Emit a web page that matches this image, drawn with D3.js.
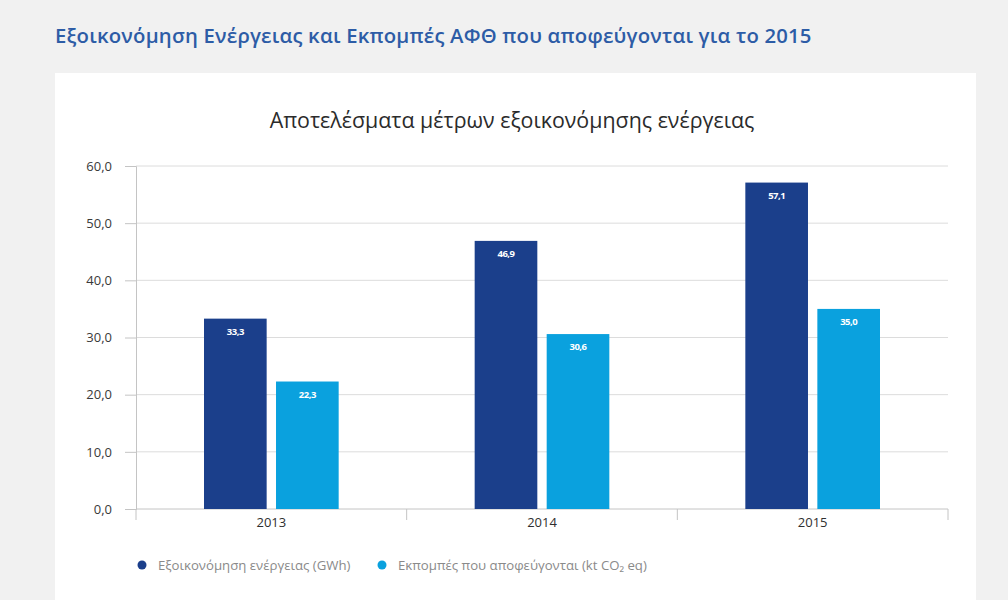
<!DOCTYPE html>
<html>
<head>
<meta charset="utf-8">
<script src="https://cdn.jsdelivr.net/npm/d3@7"></script>
<style>
  body { margin: 0; background: #f1f1f1; }
  svg { display: block; }
</style>
</head>
<body>
<svg id="chart"></svg>
<script>
'use strict';

var years = ['2013', '2014', '2015'];
var seriesNames = ['Εξοικονόμηση ενέργειας (GWh)', 'Εκπομπές που αποφεύγονται (kt CO₂ eq)'];
var energySaved = [33.3, 46.9, 57.1];
var emissionsAvoided = [22.3, 30.6, 35.0];
var yTicks = [0, 10, 20, 30, 40, 50, 60];
var colors = ['#1b3f8b', '#0aa1de'];

var svgWidth = 1008, svgHeight = 600,
    margin = { top: 166, right: 60, bottom: 91, left: 136 },
    width = 948 - margin.left,
    height = 509 - margin.top;

var svg = d3.select('#chart').attr('width', svgWidth).attr('height', svgHeight);

// white panel
svg.append('rect')
    .attr('x', 55).attr('y', 73)
    .attr('width', 921).attr('height', 540)
    .attr('fill', '#ffffff');

svg.append('text')
    .attr('x', 55).attr('y', 43)
    .attr('font-family', '"Open Sans", sans-serif')
    .attr('font-size', 20.3)
    .attr('font-weight', 600)
    .attr('letter-spacing', 0.2)
    .attr('fill', '#2d5ca6')
    .text('Εξοικονόμηση Ενέργειας και Εκπομπές ΑΦΘ που αποφεύγονται για το 2015');

svg.append('text')
    .attr('x', 512).attr('y', 128)
    .attr('text-anchor', 'middle')
    .attr('font-family', '"Open Sans", sans-serif')
    .attr('font-size', 21.4)
    .attr('fill', '#2b2b2b')
    .text('Αποτελέσματα μέτρων εξοικονόμησης ενέργειας');

var g = svg.append('g').attr('transform', 'translate(' + margin.left + ',' + margin.top + ')');

var x0 = d3.scaleBand().domain(years).range([0, width]).paddingInner(0).paddingOuter(0);
var x1 = d3.scaleBand().domain([0, 1]).range([68, x0.bandwidth() - 68]).paddingInner(0.13);
var y = d3.scaleLinear().domain([0, 60]).range([height, 0]);

var fmt = function(v) { return d3.format('.1f')(v).replace('.', ','); };

// gridlines
g.append('g')
    .selectAll('line')
    .data(yTicks.slice(1))
    .enter().append('line')
    .attr('x1', 0).attr('x2', width)
    .attr('y1', function(d) { return y(d); })
    .attr('y2', function(d) { return y(d); })
    .attr('stroke', '#dcdcdc');

// y axis
var yAxis = d3.axisLeft(y).tickValues(yTicks).tickSize(11).tickPadding(13).tickFormat(fmt);
var yG = g.append('g').call(yAxis);
yG.select('.domain').attr('stroke', '#c4c4c4');
yG.selectAll('.tick line').attr('stroke', '#c4c4c4');
yG.selectAll('text')
    .attr('font-family', '"Open Sans", sans-serif')
    .attr('font-size', 13)
    .attr('fill', '#3a3a3a');

// x axis
var xG = g.append('g').attr('transform', 'translate(0,' + height + ')');
xG.append('line').attr('x1', 0).attr('x2', width).attr('stroke', '#c4c4c4');
xG.selectAll('line.sep')
    .data(d3.range(years.length + 1))
    .enter().append('line')
    .attr('class', 'sep')
    .attr('x1', function(d) { return d * x0.bandwidth(); })
    .attr('x2', function(d) { return d * x0.bandwidth(); })
    .attr('y1', 0).attr('y2', 11)
    .attr('stroke', '#c4c4c4');
xG.selectAll('text')
    .data(years)
    .enter().append('text')
    .attr('x', function(d) { return x0(d) + x0.bandwidth() / 2; })
    .attr('y', 18)
    .attr('text-anchor', 'middle')
    .attr('font-family', '"Open Sans", sans-serif')
    .attr('font-size', 13)
    .attr('fill', '#2f2f2f')
    .text(function(d) { return d; });

// bars
var rows = years.map(function(yr, i) {
    return { year: yr, values: [energySaved[i], emissionsAvoided[i]] };
});

var groups = g.selectAll('g.year')
    .data(rows)
    .enter().append('g')
    .attr('class', 'year')
    .attr('transform', function(d) { return 'translate(' + x0(d.year) + ',0)'; });

groups.selectAll('rect')
    .data(function(d) { return d.values; })
    .enter().append('rect')
    .attr('x', function(d, i) { return x1(i); })
    .attr('y', function(d) { return y(d); })
    .attr('width', x1.bandwidth())
    .attr('height', function(d) { return height - y(d); })
    .attr('fill', function(d, i) { return colors[i]; });

groups.selectAll('text')
    .data(function(d) { return d.values; })
    .enter().append('text')
    .attr('x', function(d, i) { return x1(i) + x1.bandwidth() / 2; })
    .attr('y', function(d) { return y(d) + 16; })
    .attr('text-anchor', 'middle')
    .attr('font-family', '"Open Sans", sans-serif')
    .attr('font-size', 9.5)
    .attr('font-weight', 'bold')
    .attr('letter-spacing', -0.5)
    .attr('fill', '#ffffff')
    .text(function(d) { return fmt(d); });

// legend
var legendX = [142, 382];
var legend = svg.append('g');
seriesNames.forEach(function(name, i) {
    legend.append('circle')
        .attr('cx', legendX[i]).attr('cy', 565).attr('r', 4.5)
        .attr('fill', colors[i]);
    legend.append('text')
        .attr('x', legendX[i] + 16).attr('y', 569.5)
        .attr('font-family', '"Open Sans", sans-serif')
        .attr('font-size', 13.2)
        .attr('fill', '#8a8a8a')
        .text(name);
});
</script>
</body>
</html>
